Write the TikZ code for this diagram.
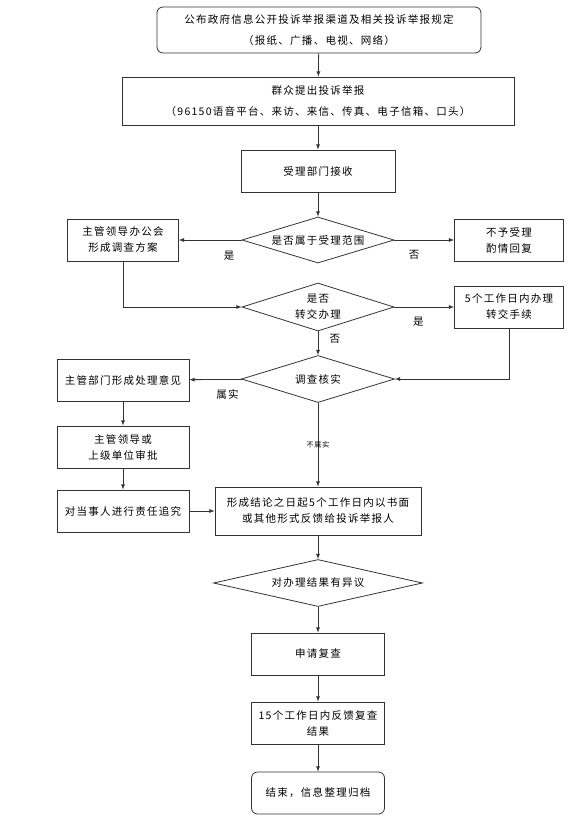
\documentclass[tikz,border=0pt]{standalone}
\usepackage{fontspec}
\newfontfamily\cjk{Noto Sans CJK SC}[LetterSpace=12]
\usetikzlibrary{shapes.geometric}
\tikzset{>=latex}
\tikzset{
  blk/.style={draw=black!80, line width=.8pt, align=center, inner sep=0pt, font=\cjk\fontsize{10.5}{16}\selectfont},
  cond/.style={blk, diamond, aspect=3},
  lbl/.style={font=\cjk\fontsize{10.5}{12}\selectfont},
  arr/.style={->, line width=.8pt, draw=black!80}
}

\begin{document}
\begin{tikzpicture}[x=1pt, y=-1pt]
    \useasboundingbox(0, 0)rectangle(587, 820);
    \node[blk, rounded corners=6pt, minimum width=324pt, minimum height=46pt](pub)at(319, 30){公布政府信息公开投诉举报渠道及相关投诉举报规定\\[5pt]（报纸、广播、电视、网络）};
    \node[blk, minimum width=392pt, minimum height=48pt](report)at(318, 101){群众提出投诉举报\\[5pt]（96150语音平台、来访、来信、传真、电子信箱、口头）};
    \node[blk, minimum width=154pt, minimum height=42pt](recv)at(318, 171){受理部门接收};
    \node[cond, minimum width=152pt, minimum height=46pt](scope)at(318, 240){是否属于受理范围};
    \node[blk, minimum width=111pt, minimum height=42pt](lead)at(123, 240){主管领导办公会\\形成调查方案};
    \node[blk, minimum width=109pt, minimum height=42pt](refuse)at(509, 240){不予受理\\酌情回复};
    \node[cond, minimum width=152pt, minimum height=48pt](trans)at(318, 307){是否\\转交办理};
    \node[blk, minimum width=109pt, minimum height=42pt](handle)at(509, 307){5个工作日内办理\\转交手续};
    \node[cond, minimum width=153pt, minimum height=47pt](verify)at(318, 379){调查核实};
    \node[blk, minimum width=132pt, minimum height=42pt](opinion)at(123, 380){主管部门形成处理意见};
    \node[blk, minimum width=132pt, minimum height=42pt](approve)at(123, 447){主管领导或\\上级单位审批};
    \node[blk, minimum width=132pt, minimum height=42pt](pursue)at(123, 511){对当事人进行责任追究};
    \node[blk, minimum width=206pt, minimum height=48pt](concl)at(318, 511){形成结论之日起5个工作日内以书面\\或其他形式反馈给投诉举报人};
    \node[cond, minimum width=209pt, minimum height=47pt](dispute)at(318, 583){对办理结果有异议};
    \node[blk, minimum width=133pt, minimum height=42pt](review)at(318, 654){申请复查};
    \node[blk, minimum width=133pt, minimum height=42pt](result)at(318, 723){15个工作日内反馈复查\\结果};
    \node[blk, rounded corners=6pt, minimum width=133pt, minimum height=42pt](finish)at(318, 793){结束，信息整理归档};
    \draw[arr](pub)--(report);
    \draw[arr](report)--(recv);
    \draw[arr](recv)--(scope);
    \draw[arr](scope)--(lead)node[lbl, pos=.2, below=7pt]{是};
    \draw[arr](scope)--(refuse)node[lbl, pos=.33, below=7pt]{否};
    \draw[arr](lead)|-(trans);
    \draw[arr](trans)--(handle)node[lbl, pos=.4, below=6pt]{是};
    \draw[arr](trans)--(verify)node[lbl, pos=.3, right=8pt]{否};
    \draw[arr](handle)|-(verify);
    \draw[arr](verify)--(opinion)node[lbl, pos=.28, below=6pt]{属实};
    \draw[arr](opinion)--(approve);
    \draw[arr](approve)--(pursue);
    \draw[arr](pursue)--(concl);
    \draw[arr](verify)--(concl)node[midway, inner sep=1pt, font=\cjk\fontsize{7}{8}\selectfont]{不属实};
    \draw[arr](concl)--(dispute);
    \draw[arr](dispute)--(review);
    \draw[arr](review)--(result);
    \draw[arr](result)--(finish);
\end{tikzpicture}
\end{document}
